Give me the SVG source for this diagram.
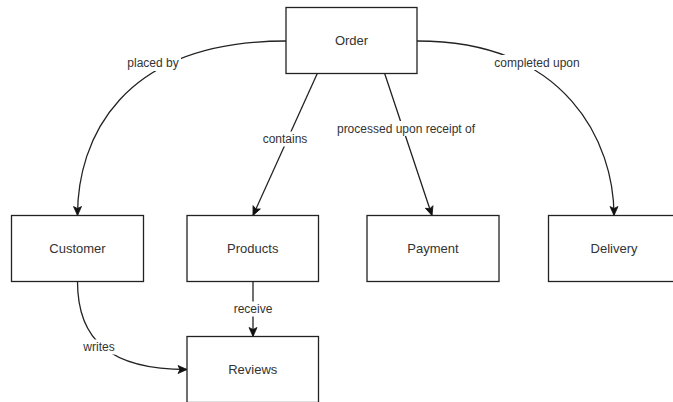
<svg xmlns="http://www.w3.org/2000/svg" width="673" height="402" viewBox="0 0 673 402">
  <style>
    .box { fill: #ffffff; stroke: #222222; stroke-width: 1.3; }
    .node-text { font-family: "Liberation Sans", Arial, Helvetica, sans-serif; font-size: 13px; fill: #333333; text-anchor: middle; dominant-baseline: central; }
    .edge { fill: none; stroke: #222222; stroke-width: 1.3; }
    .label-bg { fill: #ffffff; }
    .label { font-family: "Liberation Sans", Arial, Helvetica, sans-serif; font-size: 12px; fill: #333333; text-anchor: middle; dominant-baseline: central; }
  </style>
  <defs>
    <marker id="arrow" markerUnits="userSpaceOnUse" markerWidth="12" markerHeight="12" viewBox="-10 -6 12 12" refX="0" refY="0" orient="auto">
      <path d="M0,0 L-9,-4 L-7,0 L-9,4 Z" fill="#111111" stroke="#111111" stroke-width="0.8" stroke-linejoin="miter"/>
    </marker>
  </defs>

  <rect width="673" height="402" fill="#ffffff"/>

  <!-- connectors -->
  <g id="connectors">
    <path class="edge" d="M286,41 C120,41 77.5,140 77.5,215.5" marker-end="url(#arrow)"/>
    <path class="edge" d="M417,41 C567,41 614,143 614,215.5" marker-end="url(#arrow)"/>
    <path class="edge" d="M317.5,73 L253,215.5" marker-end="url(#arrow)"/>
    <path class="edge" d="M384.5,73 L432,215.5" marker-end="url(#arrow)"/>
    <path class="edge" d="M253,281.5 L253,336.5" marker-end="url(#arrow)"/>
    <path class="edge" d="M77.5,281.5 C77.5,340 110,369.5 187,369.5" marker-end="url(#arrow)"/>

    <rect class="label-bg" x="126" y="56" width="55" height="15"/>
    <text class="label" x="153" y="63">placed by</text>

    <rect class="label-bg" x="493" y="55" width="88" height="15"/>
    <text class="label" x="537" y="62.5">completed upon</text>

    <rect class="label-bg" x="262" y="131.5" width="46" height="15"/>
    <text class="label" x="285" y="139">contains</text>

    <rect class="label-bg" x="335" y="121" width="142" height="15"/>
    <text class="label" x="406" y="128.5">processed upon receipt of</text>

    <rect class="label-bg" x="232" y="301.5" width="42" height="15"/>
    <text class="label" x="253" y="309">receive</text>

    <rect class="label-bg" x="81" y="339.5" width="36" height="15"/>
    <text class="label" x="99" y="347">writes</text>
  </g>

  <!-- entities -->
  <g id="order">
    <rect class="box" x="286" y="7.5" width="131" height="66"/>
    <text class="node-text" x="351.5" y="40.5">Order</text>
  </g>
  <g id="customer">
    <rect class="box" x="11.5" y="215.5" width="132" height="66"/>
    <text class="node-text" x="77.5" y="248.5">Customer</text>
  </g>
  <g id="products">
    <rect class="box" x="187" y="215.5" width="131.5" height="66"/>
    <text class="node-text" x="252.75" y="248.5">Products</text>
  </g>
  <g id="payment">
    <rect class="box" x="367" y="215.5" width="132" height="66"/>
    <text class="node-text" x="433" y="248.5">Payment</text>
  </g>
  <g id="delivery">
    <rect class="box" x="548.5" y="215.5" width="132" height="66"/>
    <text class="node-text" x="614" y="248.5">Delivery</text>
  </g>
  <g id="reviews">
    <rect class="box" x="187" y="336.5" width="131.5" height="66"/>
    <text class="node-text" x="252.75" y="369.5">Reviews</text>
  </g>
</svg>
